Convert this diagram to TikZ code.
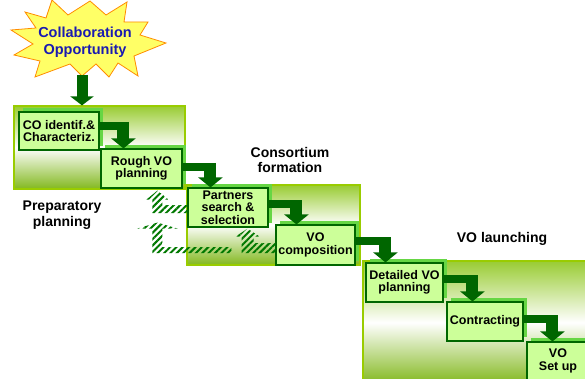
\documentclass[tikz,border=0pt]{standalone}
\usepackage{fontspec}
\setmainfont{Liberation Sans}
\usetikzlibrary{arrows.meta,shadows,patterns.meta,calc}
\definecolor{dkgreen}{RGB}{0,102,0}
\definecolor{boxfill}{RGB}{204,255,153}
\definecolor{shadegreen}{RGB}{102,214,68}
\definecolor{paneltop}{RGB}{153,204,51}
\definecolor{panelbot}{RGB}{130,184,30}
\definecolor{panelrim}{RGB}{153,204,0}
\definecolor{hatchgreen}{RGB}{0,120,0}
\definecolor{oppblue}{RGB}{26,26,178}
\definecolor{staryellow}{RGB}{255,255,102}
\definecolor{starrim}{RGB}{255,140,0}

% hatched feedback arrow: start, tip, half bar, half stem, half head, head length
\newcommand{\fbarrow}[6]{%
  \fill[hatch] let \p1=#1, \p2=#2 in
    (\x1,\y1+#3) -- (\x2+#4,\y1+#3) -- (\x2+#4,\y2-#6) -- (\x2+#5,\y2-#6)
    -- (\x2,\y2) -- (\x2-#5,\y2-#6) -- (\x2-#4,\y2-#6) -- (\x2-#4,\y1-#3)
    -- (\x1,\y1-#3) -- cycle;}

\begin{document}
\begin{tikzpicture}[x=1pt,y=-1pt,
    panel/.style={draw=panelrim, line width=1.2pt, top color=paneltop,
      bottom color=panelbot, middle color=white, inner sep=0pt},
    vobox/.style={draw=dkgreen, line width=1.1pt, fill=boxfill, align=center,
      inner sep=0pt, font=\fontsize{12.5}{12.5}\selectfont\bfseries,
      general shadow={fill=shadegreen, shadow xshift=4pt, shadow yshift=4pt}},
    phase/.style={align=center, font=\fontsize{14}{15.5}\selectfont\bfseries},
    flowbar/.style={draw=dkgreen, line width=8pt},
    flowstem/.style={draw=dkgreen, line width=12pt, -{Triangle[width=24pt,length=10pt]}},
    hatch/.style={pattern={Lines[angle=45,distance=4.5pt,line width=2pt]},
      pattern color=hatchgreen}]
\clip (0,0) rectangle (585,379);

% phases
\node[panel, minimum width=171pt, minimum height=83pt] (prep) at (99.5,147.5) {};
\node[panel, minimum width=173pt, minimum height=80pt] (cons) at (273.5,225) {};
\node[panel, minimum width=227pt, minimum height=123pt] (laun) at (476.5,322.5) {};

\node[phase] (preplab) at (62,215) {Preparatory\\planning};
\node[phase] (conslab) at (290,160) {Consortium\\formation};
\node[phase] (launlab) at (502,239) {VO launching};

% the opportunity
\draw[fill=staryellow, draw=starrim, line width=0.8pt]
  (52,0) -- (68,15) -- (90,1) -- (106,15) -- (127,2) -- (124,22) -- (148,22)
  -- (140,35) -- (166,43) -- (134,56) -- (138,76) -- (118,63) -- (109,77)
  -- (96,64) -- (82,76) -- (70,64) -- (35,77) -- (40,61) -- (14,55)
  -- (33,44) -- (11,30) -- (36,28) -- (25,12) -- (46,18) -- cycle;
\node[align=center, text=oppblue, font=\fontsize{14.5}{17}\selectfont\bfseries] (opp) at (85,42)
  {Collaboration\\Opportunity};
\coordinate (oppfoot) at (82,75);
\draw[dkgreen, line width=11pt, -{Triangle[width=23pt,length=9pt]}] (oppfoot) -- (oppfoot |- prep.north);

% steps
\node[vobox, minimum width=80pt, minimum height=38pt] (co) at (59,131) {CO identif.\&\\Characteriz.};
\node[vobox, minimum width=81pt, minimum height=39pt] (rough) at (141.5,168.5) {Rough VO\\planning};
\node[vobox, minimum width=80pt, minimum height=39pt] (partners) at (228,207.5) {Partners\\search \&\\selection};
\node[vobox, minimum width=79pt, minimum height=40pt] (vocomp) at (315.5,245) {VO\\composition};
\node[vobox, minimum width=77pt, minimum height=39pt] (detailed) at (404.5,282.5) {Detailed VO\\planning};
\node[vobox, minimum width=76pt, minimum height=39pt] (contracting) at (485,321.5) {Contracting};
\node[vobox, minimum width=64pt, minimum height=42pt] (setup) at (559,363) {};
\node[font=\fontsize{12.5}{13}\selectfont\bfseries, align=center] (setuplab) at (558,361) {VO\\Set up};

% flow
\foreach \a/\b/\dx/\dy in {co/rough/23/5, rough/partners/23/1.5, partners/vocomp/21/3.5,
    vocomp/detailed/20/4, detailed/contracting/26/3.5, contracting/setup/26/2.5} {
  \coordinate (k) at (perpendicular cs: horizontal line through={([yshift=\dy pt]\a.east)},
    vertical line through={([xshift=\dx pt]\b.north west)});
  \draw[flowbar] ([yshift=\dy pt]\a.east) -- ([xshift=6pt]k);
  \draw[flowstem] ([yshift=4pt]k) -- (k |- \b.north);
}

% feedback
\fbarrow{([yshift=-1.5pt]partners.west)}{([xshift=57pt,yshift=-2pt]rough.south west)}{4pt}{5pt}{11pt}{9pt}
\fbarrow{([xshift=-44pt,yshift=-5pt]vocomp.west)}{([xshift=-30pt,yshift=5pt]partners.south west)}{3pt}{5pt}{20pt}{6pt}
\fbarrow{([yshift=-3pt]vocomp.west)}{([xshift=-21pt,yshift=-1pt]partners.south east)}{5pt}{6pt}{12pt}{8pt}
\end{tikzpicture}
\end{document}
